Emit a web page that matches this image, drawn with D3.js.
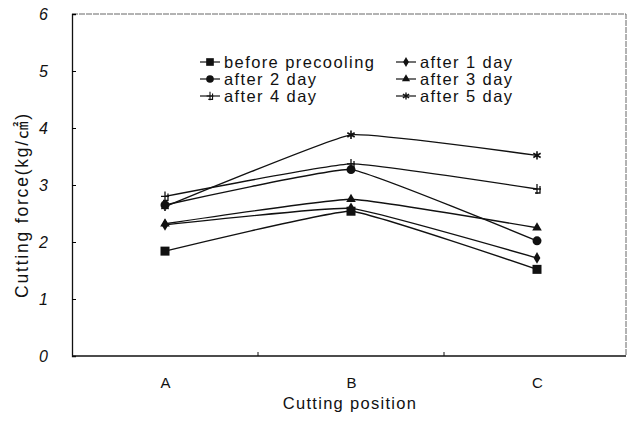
<!DOCTYPE html>
<html>
<head>
<meta charset="utf-8">
<script src="https://cdn.jsdelivr.net/npm/d3@7"></script>
<style>
  body { margin: 0; background: #fff; }
  text { font-family: "Liberation Sans", "Noto Sans CJK KR", sans-serif; fill: #111; }
</style>
</head>
<body>
<div class="chart"></div>
<script>
const positions = ['A', 'B', 'C'];
const seriesNames = ['before precooling', 'after 1 day', 'after 2 day',
  'after 3 day', 'after 4 day', 'after 5 day'];
const beforePrecooling = [1.84, 2.54, 1.52];
const after1Day = [2.30, 2.59, 1.72];
const after2Day = [2.65, 3.27, 2.02];
const after3Day = [2.32, 2.75, 2.25];
const after4Day = [2.80, 3.37, 2.93];
const after5Day = [2.62, 3.88, 3.52];
const yTicks = [0, 1, 2, 3, 4, 5, 6];
const symbols = ['square', 'diamond', 'circle', 'triangle', 'plus', 'asterisk'];

const width = 633;
const height = 421;

const svg = d3
    .select('div.chart')
    .append('svg')
    .attr('width', width)
    .attr('height', height);

const x = d3.scalePoint().domain(positions).range([72, 630]).padding(0.5);
const y = d3.scaleLinear().domain([0, 6]).range([356, 14]);

const series = [beforePrecooling, after1Day, after2Day, after3Day, after4Day, after5Day]
    .map((vals, i) => ({name: seriesNames[i], symbol: symbols[i],
      values: vals.map((v, j) => ({pos: positions[j], v: v}))}));

// frame
svg.append('path')
    .attr('d', 'M72,14H626V356')
    .attr('fill', 'none')
    .attr('stroke', '#666')
    .attr('stroke-width', 1)
    .attr('stroke-dasharray', '6,1');

svg.append('g')
    .attr('transform', 'translate(72,0)')
    .call(d3.axisLeft(y).tickValues(yTicks).tickSize(-4).tickPadding(24).tickFormat(d3.format('d')))
    .call((g) => g.select('.domain').attr('stroke', '#111').attr('stroke-width', 1.3))
    .call((g) => g.selectAll('text').attr('font-size', 16).attr('font-style', 'italic').attr('fill', '#111'));

svg.append('g')
    .attr('transform', 'translate(0,356)')
    .call(d3.axisBottom(x).tickSize(0).tickPadding(21))
    .call((g) => g.select('.domain').attr('d', 'M72,0H626').attr('stroke', '#111').attr('stroke-width', 1.3))
    .call((g) => g.selectAll('text').attr('font-size', 15).attr('fill', '#111'));

// small inward ticks between categories
const mids = [0, 1].map((i) => (x(positions[i]) + x(positions[i + 1])) / 2);
svg.selectAll('.midtick')
    .data(mids)
    .enter()
    .append('line')
    .attr('x1', (d) => d).attr('x2', (d) => d)
    .attr('y1', 356).attr('y2', 352)
    .attr('stroke', '#111');

svg.append('text')
    .attr('x', 350)
    .attr('y', 409)
    .attr('text-anchor', 'middle')
    .attr('font-size', 16.5)
    .style('letter-spacing', '1.3px')
    .text('Cutting position');

svg.append('text')
    .attr('transform', 'translate(28,205) rotate(-90)')
    .attr('text-anchor', 'middle')
    .attr('font-size', 17.5)
    .style('letter-spacing', '1.8px')
    .text('Cutting force(kg/㎠)');

const line = d3.line()
    .x((d) => x(d.pos))
    .y((d) => y(d.v))
    .curve(d3.curveCardinal.tension(0.7));

svg.selectAll('.series')
    .data(series)
    .enter()
    .append('path')
    .attr('d', (d) => line(d.values))
    .attr('fill', 'none')
    .attr('stroke', '#111')
    .attr('stroke-width', 1.4);

function drawMarker(g, type) {
  if (type === 'square') {
    g.append('rect').attr('x', -4.5).attr('y', -4.5).attr('width', 9).attr('height', 9).attr('fill', '#111');
  } else if (type === 'diamond') {
    g.append('path').attr('d', d3.symbol(d3.symbolDiamond, 40)()).attr('fill', '#111');
  } else if (type === 'circle') {
    g.append('circle').attr('r', 4.5).attr('fill', '#111');
  } else if (type === 'triangle') {
    g.append('path').attr('d', d3.symbol(d3.symbolTriangle, 40)()).attr('fill', '#111');
  } else if (type === 'plus') {
    g.append('path').attr('d', 'M-4,0H4M0,-5V5M3,-3V4H-2')
        .attr('stroke', '#111').attr('stroke-width', 1.3).attr('fill', 'none');
  } else if (type === 'asterisk') {
    g.append('path').attr('d', d3.symbol(d3.symbolAsterisk, 50)())
        .attr('stroke', '#111').attr('stroke-width', 1.6).attr('fill', 'none');
  }
}

series.forEach((s) => {
  s.values.forEach((p) => {
    const g = svg.append('g').attr('transform', `translate(${x(p.pos)},${y(p.v)})`);
    drawMarker(g, s.symbol);
  });
});

// legend
const legendX = [200, 396];
const legendY = [62, 79, 96];
const legend = svg.selectAll('.legend')
    .data(series)
    .enter()
    .append('g')
    .attr('transform', (d, i) => `translate(${legendX[i % 2]},${legendY[Math.floor(i / 2)]})`);

legend.append('line')
    .attr('x1', 0).attr('x2', 20)
    .attr('stroke', '#111').attr('stroke-width', 1.2);

legend.each(function(d) {
  const g = d3.select(this).append('g').attr('transform', 'translate(10,0) scale(0.85)');
  drawMarker(g, d.symbol);
});

legend.append('text')
    .attr('x', 24)
    .attr('dy', '0.35em')
    .attr('font-size', 16.5)
    .style('letter-spacing', '1.4px')
    .text((d) => d.name);
</script>
</body>
</html>
